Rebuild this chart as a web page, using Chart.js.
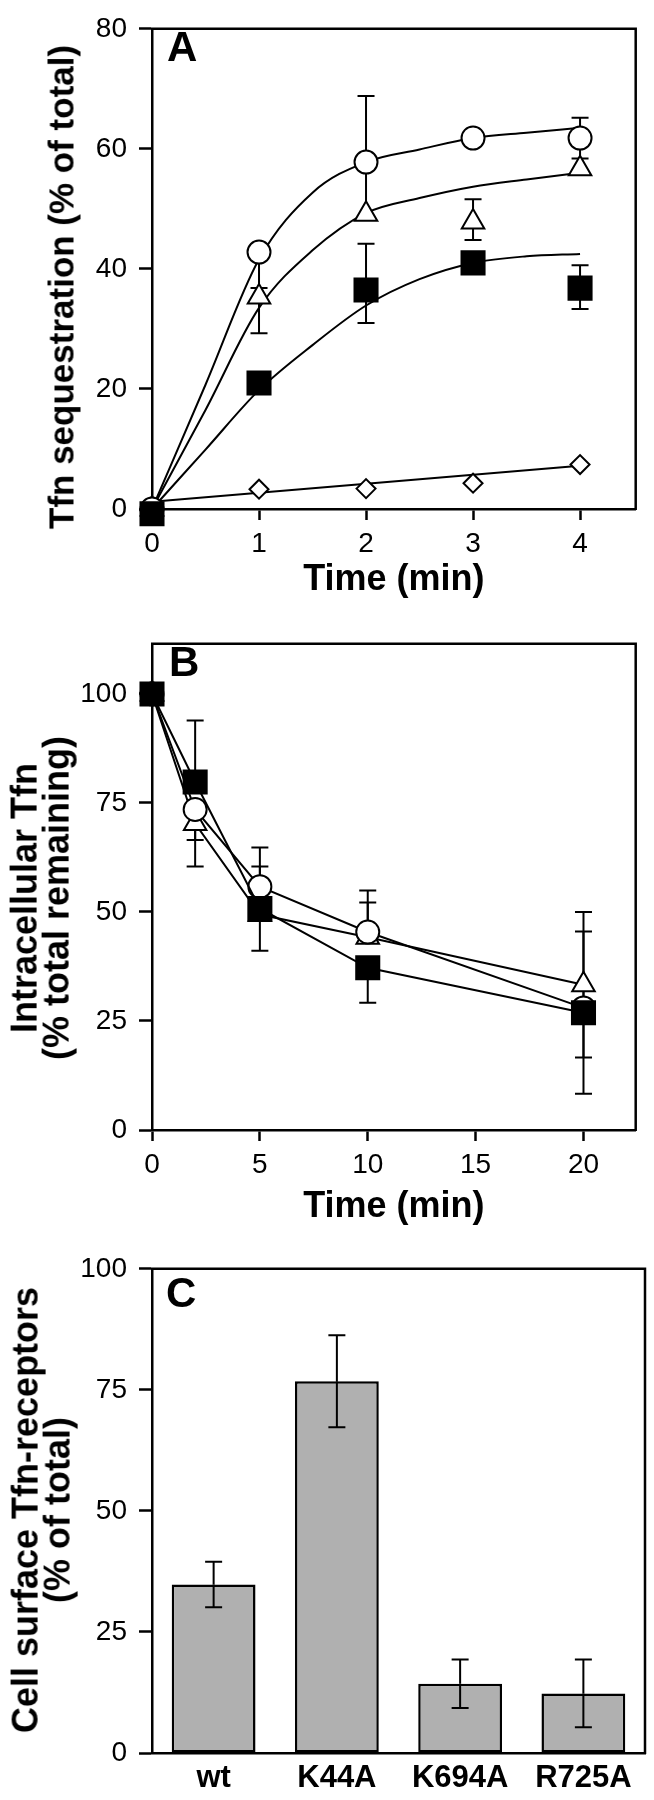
<!DOCTYPE html>
<html>
<head>
<meta charset="utf-8">
<script src="https://cdn.jsdelivr.net/npm/chart.js@4.4.0/dist/chart.umd.min.js"></script>
<style>
  body { margin: 0; background: #fff; }
  #wrap { position: relative; width: 654px; height: 1800px; }
  #wrap canvas { position: absolute; left: 0; }
  .tag { position: absolute; font: bold 42px 'Liberation Sans', Arial, sans-serif; line-height: 1; color: #000; }
  .ytitle {
    position: absolute; white-space: nowrap; text-align: center; color: #000;
    font: bold 36px 'Liberation Sans', Arial, sans-serif; line-height: 43px;
    transform: translate(-50%, -50%) rotate(-90deg);
  }
  .ytitle.two { line-height: 32.4px; }
</style>
</head>
<body>
<div id="wrap">
  <canvas id="chartA" width="654" height="615" style="top:0"></canvas>
  <canvas id="chartB" width="654" height="625" style="top:615px"></canvas>
  <canvas id="chartC" width="654" height="560" style="top:1240px"></canvas>
  <div class="tag" style="left:167px;top:26px">A</div>
  <div class="tag" style="left:169px;top:641px">B</div>
  <div class="tag" style="left:166px;top:1272px">C</div>
  <div class="ytitle" style="left:60.6px;top:287px;font-size:35px">Tfn sequestration (% of total)</div>
  <div class="ytitle two" style="left:41.4px;top:898px">Intracellular Tfn<br>(% total remaining)</div>
  <div class="ytitle two" style="left:42.4px;top:1510px">Cell surface Tfn-receptors<br>(% of total)</div>
</div>
<script>
// panel A - Tfn sequestration
var aTime = [0, 1, 2, 3, 4];
var aCircle = [0, 42.8, 57.8, 61.8, 61.8];
var aCircleUp = [0, 0, 11, 0, 3.4];
var aCircleDown = [0, 6, 9, 0, 3.4];
var aTriangle = [0, 35.3, 49.1, 47.8, 56.7];
var aTriangleUp = [0, 0, 0, 3.8, 0];
var aTriangleDown = [0, 6, 0, 3, 0];
var aSquare = [-0.8, 21, 36.5, 41, 36.8];
var aSquareUp = [0, 0, 7.7, 0, 3.8];
var aSquareDown = [0, 0, 5.5, 0, 3.5];
var aDiamond = [0, 3.3, 3.4, 4.3, 7.4];
// fitted curves of panel A
var aFitTime = [0, 0.5, 1, 1.5, 2, 2.5, 3, 3.5, 4];
var aCircleFit = [0, 20.7, 41.6, 52.7, 57.8, 59.9, 61.8, 62.7, 63.5];
var aTriangleFit = [0, 16.5, 33.5, 43.1, 49.3, 51.8, 53.7, 54.9, 56];
var aSquareFit = [0, 9.9, 19.8, 27.3, 33.9, 38.3, 41, 42.1, 42.5];
var aDiamondFitTime = [0, 4];
var aDiamondFit = [1.2, 7.2];
var aXTicks = [0, 1, 2, 3, 4];
var aYTicks = [0, 20, 40, 60, 80];

// panel B - recycling
var bTime = [0, 2, 5, 10, 20];
var bSquare = [100, 79.8, 50.8, 37.2, 26.9];
var bSquareUp = [0, 14.1, 9.6, 0, 18.6];
var bSquareDown = [0, 0, 9.7, 8, 18.6];
var bCircle = [100, 73.5, 55.8, 45.4, 28];
var bCircleUp = [0, 0, 9, 9.5, 0];
var bCircleDown = [0, 7, 0, 0, 0];
var bTriangle = [100, 70.3, 49.4, 44.2, 33.3];
var bTriangleUp = [0, 0, 0, 8, 16.7];
var bTriangleDown = [0, 9.9, 0, 0, 16.7];
var bXTicks = [0, 5, 10, 15, 20];
var bYTicks = [0, 25, 50, 75, 100];

// panel C - surface receptors
var cLabels = ['wt', 'K44A', 'K694A', 'R725A'];
var cValues = [34.8, 76.8, 14.3, 12.3];
var cErr = [4.7, 9.5, 5, 7];
var cYTicks = [0, 25, 50, 75, 100];

Chart.defaults.font.family = "'Liberation Sans', Arial, sans-serif";
Chart.defaults.color = '#000';

var frame = {
  id: 'frame',
  beforeDatasetsDraw: function(chart) {
    var ctx = chart.ctx, a = chart.chartArea;
    ctx.save();
    ctx.strokeStyle = '#000';
    ctx.lineWidth = 2.5;
    ctx.beginPath();
    ctx.moveTo(a.left - 1, a.top);
    ctx.lineTo(a.right, a.top);
    ctx.lineTo(a.right, a.bottom + 1);
    ctx.stroke();
    ctx.restore();
  }
};

function drawErrors(chart) {
  var ctx = chart.ctx, y = chart.scales.y, cap = 8.5;
  ctx.save();
  ctx.strokeStyle = '#000';
  ctx.lineWidth = 2;
  chart.data.datasets.forEach(function(ds, i) {
    if (!ds.errUp) return;
    var meta = chart.getDatasetMeta(i);
    meta.data.forEach(function(el, j) {
      var v = ds.data[j];
      var val = typeof v === 'object' ? v.y : v;
      [[ds.errUp[j], 1], [ds.errDown[j], -1]].forEach(function(p) {
        if (!p[0]) return;
        var y0 = y.getPixelForValue(val), y1 = y.getPixelForValue(val + p[1] * p[0]);
        ctx.beginPath();
        ctx.moveTo(el.x, y0);
        ctx.lineTo(el.x, y1);
        ctx.moveTo(el.x - cap, y1);
        ctx.lineTo(el.x + cap, y1);
        ctx.stroke();
      });
    });
  });
  ctx.restore();
}

var errorBars = {
  id: 'errorBars',
  beforeDatasetsDraw: function(chart, args, opts) { if (!opts.onTop) drawErrors(chart); },
  afterDatasetsDraw: function(chart, args, opts) { if (opts.onTop) drawErrors(chart); }
};

function pts(xs, ys) {
  return xs.map(function(x, i) { return {x: x, y: ys[i]}; });
}

function markers(xs, ys, up, down, style, r, fill, order, line) {
  return {
    data: pts(xs, ys), errUp: up, errDown: down,
    showLine: !!line, borderColor: '#000', borderWidth: 2, tension: 0,
    pointStyle: style, pointRadius: r, pointHoverRadius: r,
    pointBorderWidth: 2, pointBackgroundColor: fill, pointBorderColor: '#000',
    order: order, clip: false
  };
}

function fit(xs, ys, order) {
  return {
    data: pts(xs, ys), showLine: true, borderColor: '#000', borderWidth: 2,
    pointRadius: 0, pointHoverRadius: 0, cubicInterpolationMode: 'monotone',
    order: order, clip: false
  };
}

// y titles are html (they sit a little below the plot middle in the figure)
function yAxis(min, max, ticks) {
  return {
    type: 'linear', min: min, max: max,
    afterBuildTicks: function(s) { s.ticks = ticks.map(function(v) { return {value: v}; }); },
    afterFit: function(s) { s.width = 152; },
    ticks: { font: { size: 28 }, padding: 12, color: '#000' },
    grid: { drawOnChartArea: false, tickLength: 13, tickWidth: 2.5, tickColor: '#000' },
    border: { color: '#000', width: 2.5 },
    title: { display: false }
  };
}

function xAxis(min, max, ticks, height, tpad) {
  return {
    type: 'linear', min: min, max: max,
    afterBuildTicks: function(s) { s.ticks = ticks.map(function(v) { return {value: v}; }); },
    afterFit: function(s) { s.height = height; },
    ticks: { font: { size: 28 }, padding: 7, color: '#000' },
    grid: { drawOnChartArea: false, tickLength: 11, tickWidth: 2.5, tickColor: '#000' },
    border: { color: '#000', width: 2.5 },
    title: { display: true, text: 'Time (min)', color: '#000', font: { size: 36, weight: 'bold' }, padding: { top: 0, bottom: tpad } }
  };
}

function baseOptions(top, scales, onTop) {
  return {
    responsive: false, animation: false, devicePixelRatio: 1, events: [],
    layout: { padding: { top: top, right: 9, left: 0, bottom: 0 } },
    plugins: { legend: { display: false }, tooltip: { enabled: false }, errorBars: { onTop: onTop } },
    scales: scales
  };
}

new Chart(document.getElementById('chartA'), {
  type: 'line',
  data: {
    datasets: [
      markers(aTime, aSquare, aSquareUp, aSquareDown, 'rect', 16.3, '#000', 0),
      markers(aTime, aCircle, aCircleUp, aCircleDown, 'circle', 11.5, '#fff', 1),
      markers(aTime, aTriangle, aTriangleUp, aTriangleDown, 'triangle', 13, '#fff', 2),
      markers(aTime, aDiamond, null, null, 'rectRot', 9.5, '#fff', 3),
      fit(aFitTime, aCircleFit, 4),
      fit(aFitTime, aTriangleFit, 4),
      fit(aFitTime, aSquareFit, 4),
      fit(aDiamondFitTime, aDiamondFit, 4)
    ]
  },
  options: baseOptions(15, {
    x: xAxis(0, 4.52, aXTicks, 106, 13),
    y: yAxis(0, 80, aYTicks)
  }, false),
  plugins: [frame, errorBars]
});

new Chart(document.getElementById('chartB'), {
  type: 'line',
  data: {
    datasets: [
      markers(bTime, bSquare, bSquareUp, bSquareDown, 'rect', 16.3, '#000', 0, true),
      markers(bTime, bCircle, bCircleUp, bCircleDown, 'circle', 11.5, '#fff', 1, true),
      markers(bTime, bTriangle, bTriangleUp, bTriangleDown, 'triangle', 13, '#fff', 2, true)
    ]
  },
  options: baseOptions(20, {
    x: xAxis(0, 22.42, bXTicks, 110, 11),
    y: yAxis(0, 111.5, bYTicks)
  }, false),
  plugins: [frame, errorBars]
});

new Chart(document.getElementById('chartC'), {
  type: 'bar',
  data: {
    labels: cLabels,
    datasets: [{
      data: cValues, errUp: cErr, errDown: cErr,
      backgroundColor: '#b0b0b0', borderColor: '#000', borderWidth: 2.5, borderSkipped: false,
      barPercentage: 0.68, categoryPercentage: 1
    }]
  },
  options: baseOptions(21, {
    x: {
      type: 'category',
      afterFit: function(s) { s.height = 47; },
      ticks: { font: { size: 31, weight: 'bold' }, padding: 7, color: '#000' },
      grid: { display: false, drawTicks: false, tickLength: 0 },
      border: { color: '#000', width: 2.5 }
    },
    y: yAxis(0, 100, cYTicks)
  }, true),
  plugins: [frame, errorBars]
});
</script>
</body>
</html>
